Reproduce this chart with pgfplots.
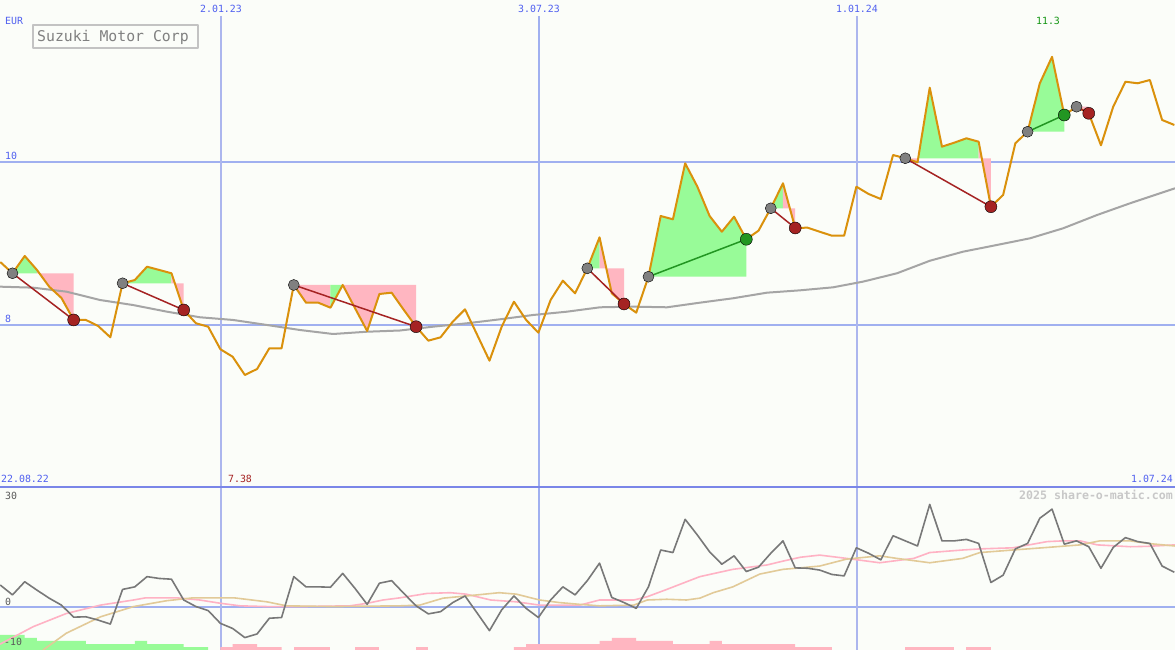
\documentclass[border=0pt]{standalone}
\usepackage{pgfplots}
\usepackage{pgfplotstable}
\pgfplotsset{compat=1.18}
\usepackage{fontspec}
\setmainfont{DejaVu Sans Mono}
\definecolor{bg}{RGB}{251,253,249}
\definecolor{gridblue}{RGB}{160,176,240}
\definecolor{thinblue}{RGB}{172,182,238}
\definecolor{sepblue}{RGB}{122,134,232}
\definecolor{lblblue}{RGB}{80,96,240}
\definecolor{priceor}{RGB}{218,145,12}
\definecolor{magray}{RGB}{165,165,165}
\definecolor{fillgreen}{RGB}{152,251,152}
\definecolor{fillpink}{RGB}{255,182,193}
\definecolor{lossred}{RGB}{165,35,35}
\definecolor{wingreen}{RGB}{34,150,34}
\definecolor{dotgray}{RGB}{128,128,128}
\definecolor{indgray}{RGB}{120,120,120}
\definecolor{indpink}{RGB}{255,178,196}
\definecolor{indtan}{RGB}{226,202,152}
\definecolor{titlegray}{RGB}{128,128,128}
\definecolor{boxgray}{RGB}{195,195,195}
\definecolor{wmgray}{RGB}{200,200,200}
\definecolor{maxgreen}{RGB}{20,150,20}
\definecolor{lbldark}{RGB}{90,90,90}

\pgfplotstableread{
k p
-1 8.772
0 8.633
1 8.846
2 8.674
3 8.468
4 8.329
5 8.058
6 8.058
7 7.984
8 7.844
9 8.510
10 8.550
11 8.714
12 8.674
13 8.633
14 8.181
15 8.017
16 7.975
17 7.697
18 7.605
19 7.380
20 7.454
21 7.709
22 7.709
23 8.489
24 8.271
25 8.271
26 8.209
27 8.489
28 8.205
29 7.922
30 8.378
31 8.394
32 8.181
33 7.975
34 7.803
35 7.844
36 8.037
37 8.189
38 7.873
39 7.556
40 7.975
41 8.283
42 8.058
43 7.901
44 8.304
45 8.542
46 8.386
47 8.694
48 9.076
49 8.386
50 8.255
51 8.148
52 8.591
53 9.339
54 9.298
55 9.988
56 9.700
57 9.339
58 9.145
59 9.330
60 9.052
61 9.158
62 9.434
63 9.742
64 9.191
65 9.195
66 9.145
67 9.096
68 9.096
69 9.700
70 9.610
71 9.548
72 10.090
73 10.050
74 10.000
75 10.920
76 10.193
77 10.242
78 10.296
79 10.254
80 9.453
81 9.598
82 10.235
83 10.377
84 10.974
85 11.300
86 10.583
87 10.685
88 10.604
89 10.210
90 10.685
91 10.993
92 10.974
93 11.014
94 10.522
95 10.460
}\price

\pgfplotstableread{
k m
-1.02 8.468
1.68 8.456
4.43 8.406
7.15 8.304
9.85 8.242
12.63 8.160
15.33 8.091
18.03 8.058
20.81 7.996
23.51 7.934
26.21 7.885
28.99 7.913
31.68 7.928
34.38 7.975
37.16 8.017
39.86 8.066
42.56 8.119
45.34 8.160
48.04 8.214
50.74 8.222
53.52 8.214
56.21 8.271
58.91 8.325
61.69 8.394
64.39 8.423
67.09 8.460
69.54 8.530
72.32 8.633
75.02 8.788
77.72 8.899
80.50 8.982
83.20 9.064
85.90 9.187
88.68 9.351
91.37 9.495
95.05 9.680
}\ma

\pgfplotstableread{
k v
-1 6.1
0 3.4
1 7.0
2 4.7
3 2.5
4 0.6
5 -2.7
6 -2.6
7 -3.5
8 -4.6
9 4.9
10 5.6
11 8.4
12 7.9
13 7.7
14 2.0
15 0.2
16 -0.9
17 -4.4
18 -5.8
19 -8.3
20 -7.3
21 -3.0
22 -2.8
23 8.4
24 5.6
25 5.6
26 5.5
27 9.3
28 5.2
29 0.8
30 6.6
31 7.3
32 3.8
33 0.4
34 -1.8
35 -1.2
36 1.3
37 3.1
38 -1.6
39 -6.4
40 -0.7
41 3.1
42 -0.3
43 -2.8
44 2.0
45 5.6
46 3.4
47 7.3
48 12.1
49 2.7
50 1.3
51 -0.3
52 5.6
53 15.7
54 15.0
55 24.1
56 19.8
57 15.2
58 11.8
59 14.1
60 9.8
61 11.0
62 14.8
63 18.2
64 10.8
65 10.7
66 10.2
67 9.0
68 8.6
69 16.3
70 14.8
71 13.0
72 19.6
73 18.2
74 16.8
75 28.2
76 18.2
77 18.2
78 18.6
79 17.5
80 6.8
81 8.8
82 16.0
83 17.5
84 24.4
85 26.9
86 17.3
87 18.2
88 16.6
89 10.7
90 16.4
91 19.1
92 18.0
93 17.5
94 11.3
95 9.6
}\mom

\pgfplotstableread{
k v
-1.02 -10.1
1.7 -5.3
4.4 -1.7
7.2 0.6
9.9 2.0
10.9 2.6
13.4 2.6
15.3 2.0
17.0 1.1
18.6 0.4
20.8 0.2
23.5 0.2
27.6 0.4
29.0 1.1
30.3 2.0
31.7 2.6
33.9 3.8
35.8 4.0
37.1 3.6
39.1 2.0
41.2 1.5
43.1 0.6
46.4 0.6
48.0 2.0
50.8 2.0
51.9 2.9
53.5 4.9
56.2 8.4
58.9 10.4
61.7 11.6
62.8 12.5
64.4 13.7
66.0 14.3
68.2 13.4
70.9 12.2
73.7 13.4
75.0 15.0
77.7 15.7
79.1 16.0
81.8 16.3
84.6 18.0
85.9 18.2
87.3 18.2
88.7 17.1
91.4 16.6
92.8 16.7
95.05 17.1
}\mapink

\pgfplotstableread{
k v
2.5 -11.7
4.4 -7.1
7.2 -2.6
9.9 0.2
12.6 1.8
14.8 2.6
18.1 2.6
20.8 1.5
22.4 0.4
26.2 0.2
31.7 0.4
33.3 0.6
35.2 2.5
37.1 3.1
39.8 4.0
41.2 3.6
43.1 2.0
44.7 1.3
46.4 0.8
48.0 0.4
50.8 0.6
51.9 2.0
53.5 2.2
55.1 2.0
56.2 2.5
57.3 4.0
58.9 5.6
61.1 9.1
63.0 10.4
64.4 10.8
66.0 11.3
68.2 13.2
70.9 14.1
72.3 13.4
75.0 12.2
77.7 13.4
79.1 15.0
81.8 15.7
84.6 16.4
87.3 17.1
88.9 18.2
91.4 18.2
92.8 17.5
95.05 16.8
}\matan

\begin{document}
\begin{tikzpicture}[line join=round]
\path[use as bounding box] (0pt,0pt) rectangle (1175pt,650pt);
\fill[bg] (0pt,0pt) rectangle (1175pt,650pt);

% ---------------- top panel ----------------
\begin{axis}[at={(0pt,163pt)}, anchor=south west, scale only axis,
  width=1175pt, height=487pt, xmin=-1.022, xmax=95.05, ymin=6, ymax=12,
  hide axis, clip=true]
\draw[gridblue, line width=2pt] (axis cs:-1.022,10) -- (axis cs:95.05,10);
\draw[gridblue, line width=2pt] (axis cs:-1.022,8) -- (axis cs:95.05,8);
\draw[thinblue, line width=1.2pt] (axis cs:17.05,11.803) -- (axis cs:17.05,6);
\draw[gridblue, line width=2pt] (axis cs:43.05,11.803) -- (axis cs:43.05,6);
\draw[thinblue, line width=1.2pt] (axis cs:69.05,11.803) -- (axis cs:69.05,6);
% trade areas
\addplot[fill=fillgreen, draw=none] coordinates {(0,8.633) (1,8.846) (2,8.674) (2,8.633)};
\addplot[fill=fillpink, draw=none] coordinates {(2,8.633) (2,8.674) (3,8.468) (4,8.329) (5,8.058) (5,8.633)};
\addplot[fill=fillgreen, draw=none] coordinates {(9,8.51) (10,8.55) (11,8.714) (12,8.674) (13,8.633) (13,8.51)};
\addplot[fill=fillpink, draw=none] coordinates {(13,8.51) (13,8.633) (14,8.181) (14,8.51)};
\addplot[fill=fillpink, draw=none] coordinates {(23,8.489) (24,8.271) (25,8.271) (26,8.209) (26,8.489)};
\addplot[fill=fillgreen, draw=none] coordinates {(26,8.489) (26,8.209) (27,8.489)};
\addplot[fill=fillpink, draw=none] coordinates {(27,8.489) (28,8.205) (29,7.922) (30,8.378) (31,8.394) (32,8.181) (33,7.975) (33,8.489)};
\addplot[fill=fillgreen, draw=none] coordinates {(47,8.694) (48,9.076) (48,8.694)};
\addplot[fill=fillpink, draw=none] coordinates {(48,8.694) (48,9.076) (49,8.386) (50,8.255) (50,8.694)};
\addplot[fill=fillgreen, draw=none] coordinates {(52,8.591) (53,9.339) (54,9.298) (55,9.988) (56,9.700) (57,9.339) (58,9.145) (59,9.330) (60,9.052) (60,8.591)};
\addplot[fill=fillgreen, draw=none] coordinates {(62,9.434) (63,9.742) (63,9.434)};
\addplot[fill=fillpink, draw=none] coordinates {(63,9.434) (63,9.742) (64,9.191) (64,9.434)};
\addplot[fill=fillpink, draw=none] coordinates {(73,10.05) (74,10.00) (74,10.05)};
\addplot[fill=fillgreen, draw=none] coordinates {(74,10.05) (74,10.00) (75,10.92) (76,10.193) (77,10.242) (78,10.296) (79,10.254) (79,10.05)};
\addplot[fill=fillpink, draw=none] coordinates {(79,10.05) (79,10.254) (80,9.453) (80,10.05)};
\addplot[fill=fillgreen, draw=none] coordinates {(83,10.377) (84,10.974) (85,11.3) (86,10.583) (86,10.377)};
\addplot[fill=fillpink, draw=none] coordinates {(87,10.685) (88,10.604) (88,10.685)};
% moving average and price
\addplot[magray, line width=2pt] table[x=k,y=m] {\ma};
\addplot[priceor, line width=2pt] table[x=k,y=p] {\price};
% trade lines
\addplot[lossred, line width=1.5pt] coordinates {(0,8.633) (5,8.058)};
\addplot[lossred, line width=1.5pt] coordinates {(9,8.51) (14,8.181)};
\addplot[lossred, line width=1.5pt] coordinates {(23,8.489) (33,7.975)};
\addplot[lossred, line width=1.5pt] coordinates {(47,8.694) (50,8.255)};
\addplot[wingreen, line width=1.5pt] coordinates {(52,8.591) (60,9.052)};
\addplot[lossred, line width=1.5pt] coordinates {(62,9.434) (64,9.191)};
\addplot[lossred, line width=1.5pt] coordinates {(73,10.05) (80,9.453)};
\addplot[wingreen, line width=1.5pt] coordinates {(83,10.377) (86,10.583)};
\addplot[lossred, line width=1.5pt] coordinates {(87,10.685) (88,10.604)};
% dots
\addplot[only marks, mark=*, mark size=5.5pt, mark options={fill=dotgray, draw=none}]
  coordinates {(0,8.633) (9,8.51) (23,8.489) (47,8.694) (52,8.591) (62,9.434) (73,10.05) (83,10.377) (87,10.685)};
\addplot[only marks, mark=*, mark size=6pt, mark options={fill=lossred, draw=none}]
  coordinates {(5,8.058) (14,8.181) (33,7.975) (50,8.255) (64,9.191) (80,9.453) (88,10.604)};
\addplot[only marks, mark=*, mark size=6pt, mark options={fill=wingreen, draw=none}]
  coordinates {(60,9.052) (86,10.583)};
\end{axis}

% ---------------- bottom panel ----------------
\begin{axis}[at={(0pt,0pt)}, anchor=south west, scale only axis,
  width=1175pt, height=163pt, xmin=-1.022, xmax=95.05, ymin=-11.7, ymax=32.96,
  hide axis, clip=true]
\draw[gridblue, line width=2pt] (axis cs:-1.022,0) -- (axis cs:95.05,0);
\draw[thinblue, line width=1.2pt] (axis cs:17.05,-11.7) -- (axis cs:17.05,32.96);
\draw[gridblue, line width=2pt] (axis cs:43.05,-11.7) -- (axis cs:43.05,32.96);
\draw[thinblue, line width=1.2pt] (axis cs:69.05,-11.7) -- (axis cs:69.05,32.96);
% bars
\addplot[fill=fillgreen, draw=none] coordinates {(-1.022,-11.7) (-1.022,-7.59) (1,-7.59) (1,-8.41) (2,-8.41) (2,-9.23) (6,-9.23) (6,-10.06) (10,-10.06) (10,-9.23) (11,-9.23) (11,-10.06) (14,-10.06) (14,-10.88) (16,-10.88) (16,-11.7)};
\addplot[fill=fillpink, draw=none] coordinates {(17,-11.7) (17,-10.88) (18,-10.88) (18,-10.06) (20,-10.06) (20,-10.88) (22,-10.88) (22,-11.7)};
\addplot[fill=fillpink, draw=none] coordinates {(23,-11.7) (23,-10.88) (26,-10.88) (26,-11.7)};
\addplot[fill=fillpink, draw=none] coordinates {(28,-11.7) (28,-10.88) (30,-10.88) (30,-11.7)};
\addplot[fill=fillpink, draw=none] coordinates {(33,-11.7) (33,-10.88) (34,-10.88) (34,-11.7)};
\addplot[fill=fillpink, draw=none] coordinates {(41,-11.7) (41,-10.88) (42,-10.88) (42,-10.06) (48,-10.06) (48,-9.23) (49,-9.23) (49,-8.41) (51,-8.41) (51,-9.23) (54,-9.23) (54,-10.06) (57,-10.06) (57,-9.23) (58,-9.23) (58,-10.06) (64,-10.06) (64,-10.88) (67,-10.88) (67,-11.7)};
\addplot[fill=fillpink, draw=none] coordinates {(73,-11.7) (73,-10.88) (77,-10.88) (77,-11.7)};
\addplot[fill=fillpink, draw=none] coordinates {(78,-11.7) (78,-10.88) (80,-10.88) (80,-11.7)};
% lines
\addplot[indpink, line width=1.6pt] table[x=k,y=v] {\mapink};
\addplot[indtan, line width=1.6pt] table[x=k,y=v] {\matan};
\addplot[indgray, line width=1.6pt] table[x=k,y=v] {\mom};
\end{axis}

\draw[sepblue, line width=2pt] (0pt,163pt) -- (1175pt,163pt);

% ---------------- labels ----------------
\begin{scope}[every node/.style={inner sep=0pt, font=\fontsize{9.9pt}{11pt}\selectfont}]
\node[anchor=base, text=lblblue] at (221pt,637.3pt) {2.01.23};
\node[anchor=base, text=lblblue] at (539pt,637.3pt) {3.07.23};
\node[anchor=base, text=lblblue] at (857pt,637.3pt) {1.01.24};
\node[anchor=base, text=maxgreen] at (1048pt,625pt) {11.3};
\node[anchor=base west, text=lblblue] at (5pt,625pt) {EUR};
\node[anchor=base west, text=lblblue] at (5pt,490pt) {10};
\node[anchor=base west, text=lblblue] at (5pt,327.3pt) {8};
\node[anchor=base west, text=lblblue] at (1pt,167.3pt) {22.08.22};
\node[anchor=base, text=lossred] at (240pt,167.3pt) {7.38};
\node[anchor=base east, text=lblblue] at (1173pt,167.3pt) {1.07.24};
\node[anchor=base east, text=wmgray, font=\fontsize{11.6pt}{13pt}\selectfont\bfseries] at (1173pt,150pt) {2025 share-o-matic.com};
\node[anchor=base west, text=lbldark] at (5pt,150.7pt) {30};
\node[anchor=base west, text=lbldark] at (5pt,44.3pt) {0};
\node[anchor=base west, text=lbldark] at (4pt,4.3pt) {-10};
\end{scope}
\draw[boxgray, line width=2pt, fill=bg] (33pt,602pt) rectangle (198pt,625pt);
\node[anchor=base west, inner sep=0pt, text=titlegray, font=\fontsize{14.8pt}{16pt}\selectfont] at (37pt,608.3pt) {Suzuki Motor Corp};
\end{tikzpicture}
\end{document}
